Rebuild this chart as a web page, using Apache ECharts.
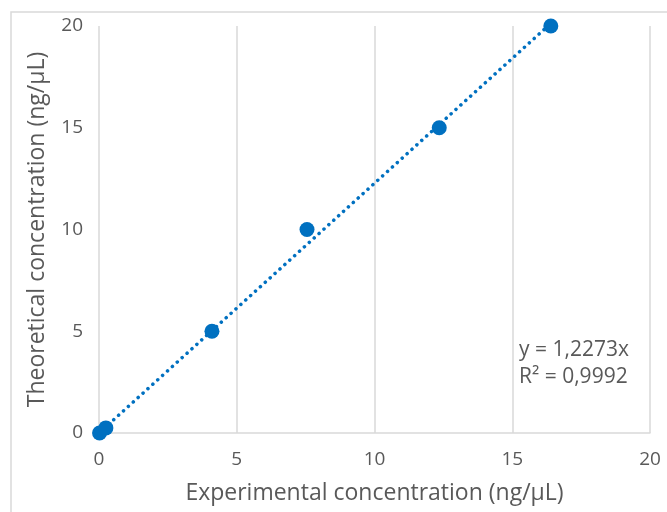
<!DOCTYPE html>
<html><head><meta charset="utf-8">
<script src="https://cdn.jsdelivr.net/npm/echarts@6/dist/echarts.min.js"></script>
<style>html,body{margin:0;padding:0;background:#fff}#c{width:667px;height:512px}</style>
</head><body><div id="c"></div>
<script>
var experimental = [0.02, 0.25, 4.1, 7.55, 12.35, 16.4];
var theoretical = [0, 0.25, 5, 10, 15, 20];
var trendX = [0, 16.4];
var trendY = [0, 20.13];
var xTicks = [0, 5, 10, 15, 20];
var yTicks = [0, 5, 10, 15, 20];
var eqText = 'y = 1,2273x';
var r2Text = 'R² = 0,9992';

var FONT = 'Open Sans';
var chart = echarts.init(document.getElementById('c'), null, {renderer: 'canvas'});
chart.setOption({
  animation: false,
  backgroundColor: '#fff',
  grid: {left: 99, right: 17, top: 26, bottom: 79},
  graphic: [
    {type: 'rect', shape: {x: 11, y: 12, width: 700, height: 600}, style: {fill: 'none', stroke: '#d9d9d9', lineWidth: 1.5}, z: -1},
    {type: 'text', left: 519, top: 337, style: {text: eqText + '\n' + r2Text, font: '21px "' + FONT + '"', fill: '#595959', lineHeight: 27}}
  ],
  xAxis: {
    type: 'value', min: 0, max: 20, interval: 5,
    name: 'Experimental concentration (ng/µL)', nameLocation: 'middle', nameGap: 49,
    nameTextStyle: {fontFamily: FONT, fontSize: 23, color: '#595959'},
    axisLine: {show: true, lineStyle: {color: '#d9d9d9', width: 1.5}},
    axisTick: {show: false},
    axisLabel: {fontFamily: FONT, fontSize: 19, color: '#595959', margin: 17,
      formatter: function (v) { return xTicks.indexOf(v) >= 0 ? String(v) : ''; }},
    splitLine: {show: true, lineStyle: {color: '#d9d9d9', width: 1.5}}
  },
  yAxis: {
    type: 'value', min: 0, max: 20, interval: 5,
    name: 'Theoretical concentration (ng/µL)', nameLocation: 'middle', nameGap: 50,
    nameTextStyle: {fontFamily: FONT, fontSize: 23, color: '#595959'},
    axisLine: {show: false}, axisTick: {show: false},
    axisLabel: {fontFamily: FONT, fontSize: 19, color: '#595959', margin: 16,
      formatter: function (v) { return yTicks.indexOf(v) >= 0 ? String(v) : ''; }},
    splitLine: {show: false}
  },
  series: [
    {type: 'line', data: trendX.map(function (x, i) { return [x, trendY[i]]; }),
      symbol: 'none', lineStyle: {color: '#0070C0', width: 3.5, type: [0.1, 6.5], cap: 'round'}, z: 2},
    {type: 'scatter', data: experimental.map(function (x, i) { return [x, theoretical[i]]; }),
      symbol: 'circle', symbolSize: 15, itemStyle: {color: '#0070C0', opacity: 1}, z: 3}
  ]
});
</script></body></html>
